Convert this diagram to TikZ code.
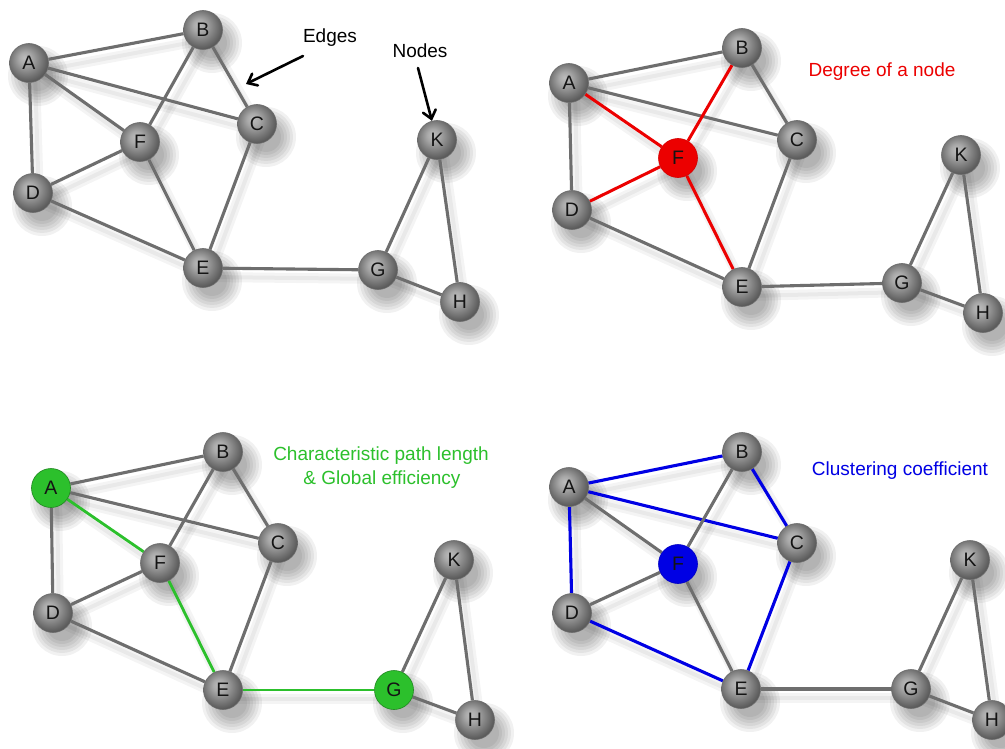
\documentclass[tikz,border=0pt]{standalone}
\usepackage{fontspec}
\setmainfont{Liberation Sans}
\usetikzlibrary{arrows.meta}

\pgfdeclarelayer{bg}
\pgfdeclarelayer{shadow}
\pgfdeclarelayer{edges}
\pgfsetlayers{bg,shadow,edges,main}

% grey sphere look for the vertices
\pgfdeclareradialshading{greyball}{\pgfpoint{-6bp}{7bp}}{%
  color(0bp)=(black!26); color(8bp)=(black!34); color(18bp)=(black!50);
  color(28bp)=(black!66); color(50bp)=(black!74)}

\definecolor{edgegray}{RGB}{110,110,110}
\definecolor{degred}{RGB}{236,0,0}
\definecolor{pathgreen}{RGB}{44,192,44}
\definecolor{clusblue}{RGB}{0,0,228}

\begin{document}
\begin{tikzpicture}[x=1pt,y=-1pt,
  vbase/.style={circle, minimum size=39pt, inner sep=0pt,
    font=\fontsize{19.5}{19.5}\selectfont, text=black!92},
  vertex/.style={vbase, shading=greyball, draw=black!58, line width=0.6pt},
  redvertex/.style={vbase, fill=degred, draw=degred!90!black, line width=0.6pt},
  greenvertex/.style={vbase, fill=pathgreen, draw=pathgreen!70!black, line width=0.6pt},
  bluevertex/.style={vbase, fill=clusblue, draw=clusblue!85!black, line width=0.6pt},
  link/.style={draw=edgegray, line width=3.1pt},
  redlink/.style={draw=degred, line width=3pt},
  greenlink/.style={draw=pathgreen, line width=2.8pt},
  bluelink/.style={draw=clusblue, line width=3.1pt},
  linkshadow/.style={draw=black, opacity=0.045, line cap=round},
  lbl/.style={font=\fontsize{19}{22}\selectfont, inner sep=0pt},
  pointer/.style={draw=black, line width=2.6pt, line cap=round,
    -{Straight Barb[length=8pt,width=13pt,line cap=round]}}
]
\useasboundingbox (0,0) rectangle (1005,749);
\begin{pgfonlayer}{bg}
  \fill[white] (0,0) rectangle (1005,749);
\end{pgfonlayer}

% ---------- panel 1: plain network ----------
\foreach \n/\x/\y in {A/29/63,B/203/30,C/257/124,F/140/142,D/33/193,
                      E/203/268,K/437/140,G/378/270,H/460/302}
  \node[vertex] (p1\n) at (\x,\y) {\n};

% ---------- panel 2: degree of F ----------
\foreach \n/\x/\y/\s in {A/569/83/vertex,B/742/48/vertex,C/797/140/vertex,
                         F/678/158/redvertex,D/572/210/vertex,E/742/287/vertex,
                         K/961/155/vertex,G/902/283/vertex,H/983/313/vertex}
  \node[\s] (p2\n) at (\x,\y) {\n};

% ---------- panel 3: shortest path A to G ----------
\foreach \n/\x/\y/\s in {A/51/488/greenvertex,B/223/452/vertex,C/278/543/vertex,
                         F/160/563/vertex,D/53/613/vertex,E/223/690/vertex,
                         K/454/560/vertex,G/394/690/greenvertex,H/475/720/vertex}
  \node[\s] (p3\n) at (\x,\y) {\n};

% ---------- panel 4: neighbourhood of F ----------
\foreach \n/\x/\y/\s in {A/569/487/vertex,B/742/452/vertex,C/797/543/vertex,
                         F/678/564/bluevertex,D/572/613/vertex,E/741/689/vertex,
                         K/970/560/vertex,G/911/689/vertex,H/992/720/vertex}
  \node[\s] (p4\n) at (\x,\y) {\n};

% soft shadows under vertices and edges
\begin{pgfonlayer}{shadow}
  \foreach \p in {1,2,3,4}{
    \foreach \u/\v in {A/B,A/C,A/F,A/D,B/F,B/C,C/E,D/F,E/F,D/E,E/G,G/K,G/H,H/K}{
      \draw[linkshadow, line width=10pt] ([shift={(6,9)}]p\p\u.center) -- ([shift={(6,9)}]p\p\v.center);
      \draw[linkshadow, line width=4pt] ([shift={(6,9)}]p\p\u.center) -- ([shift={(6,9)}]p\p\v.center);
    }
    \foreach \n in {A,B,C,D,E,F,G,H,K}{
      \foreach \r in {30,27,24,21,18,15}
        \fill[black, opacity=0.055] ([shift={(9,13)}]p\p\n.center) circle[radius=\r pt];
    }
  }
\end{pgfonlayer}

% edges
\begin{pgfonlayer}{edges}
  \foreach \u/\v in {A/B,A/C,A/F,A/D,B/F,B/C,C/E,D/F,E/F,D/E,E/G,G/K,G/H,H/K}
    \draw[link] (p1\u) -- (p1\v);
  \foreach \u/\v/\s in {A/B/link,A/C/link,A/F/redlink,A/D/link,B/F/redlink,
                        B/C/link,C/E/link,D/F/redlink,E/F/redlink,D/E/link,
                        E/G/link,G/K/link,G/H/link,H/K/link}
    \draw[\s] (p2\u) -- (p2\v);
  \foreach \u/\v/\s in {A/B/link,A/C/link,A/F/greenlink,A/D/link,B/F/link,
                        B/C/link,C/E/link,D/F/link,E/F/greenlink,D/E/link,
                        E/G/greenlink,G/K/link,G/H/link,H/K/link}
    \draw[\s] (p3\u) -- (p3\v);
  \foreach \u/\v/\s in {A/B/bluelink,A/C/bluelink,A/F/link,A/D/bluelink,B/F/link,
                        B/C/bluelink,C/E/bluelink,D/F/link,E/F/link,D/E/bluelink,
                        E/G/link,G/K/link,G/H/link,H/K/link}
    \draw[\s] (p4\u) -- (p4\v);
\end{pgfonlayer}

% captions and pointers
\node[lbl, anchor=base] (edgeslbl) at (330,43) {Edges};
\node[lbl, anchor=base] (nodeslbl) at (420,58) {Nodes};
\coordinate (edgestail) at (303,56);
\coordinate (edgestip) at (246,84);
\draw[pointer] (edgestail) -- (edgestip);
\coordinate (nodestail) at (418,68);
\draw[pointer] (nodestail) -- (p1K);

\node[lbl, anchor=base, text=degred] (deglbl) at (882,77) {Degree of a node};
\node[lbl, anchor=base, text=pathgreen] (pathlbl) at (381,460) {Characteristic path length};
\node[lbl, anchor=base, text=pathgreen] (efflbl) at (382,484) {\& Global efficiency};
\node[lbl, anchor=base, text=clusblue] (cluslbl) at (900,475) {Clustering coefficient};
\end{tikzpicture}
\end{document}
